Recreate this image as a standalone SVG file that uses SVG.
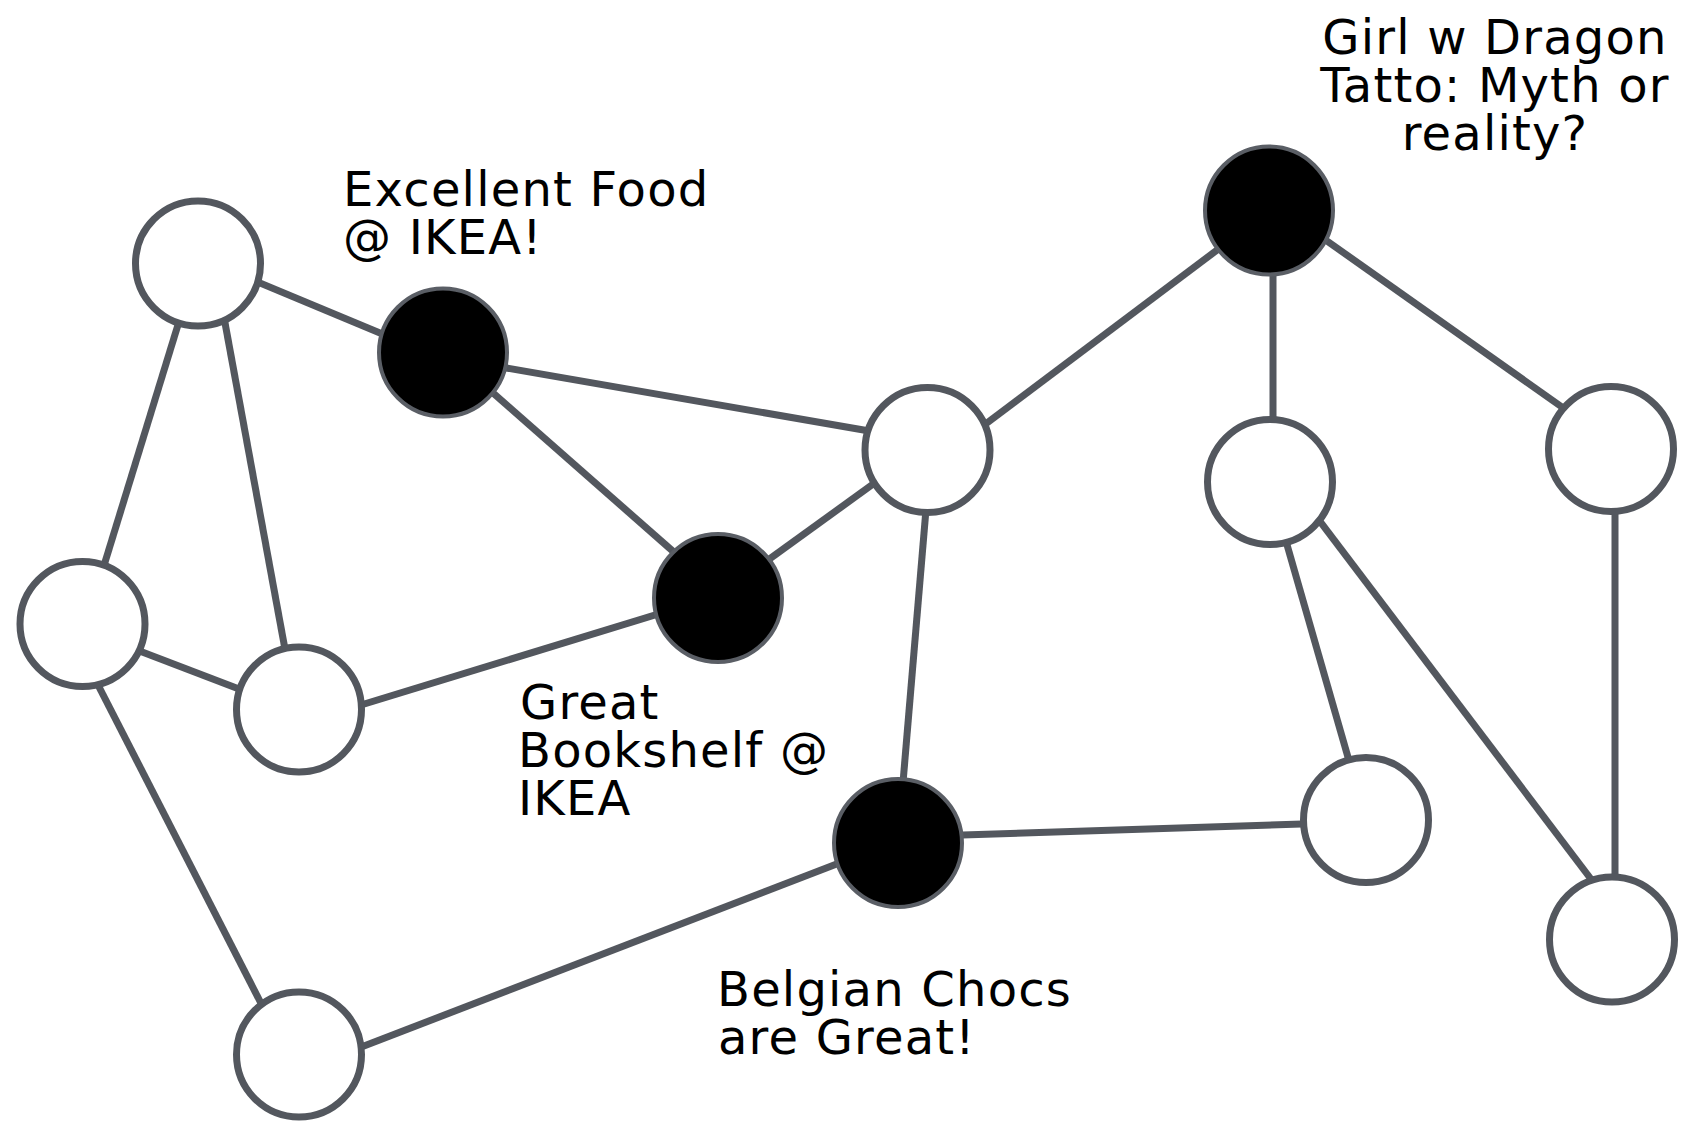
<svg xmlns="http://www.w3.org/2000/svg" width="1686" height="1122" viewBox="0 0 1686 1122">
<style>
.e{stroke:#53575e;stroke-width:7;stroke-linecap:butt;fill:none}
.w{fill:#fff;stroke:#53575e;stroke-width:7}
.b{fill:#000;stroke:#5a5e65;stroke-width:4}
.t{font-family:"DejaVu Sans",sans-serif;font-size:48px;letter-spacing:1.2px;fill:#000}
.m{text-anchor:middle}
</style>
<rect width="1686" height="1122" fill="#fff"/>
<g id="connectors">
<line class="e" x1="200" y1="258" x2="440" y2="358"/>
<line class="e" x1="197" y1="263" x2="86" y2="624"/>
<line class="e" x1="214" y1="263" x2="296" y2="709"/>
<line class="e" x1="82" y1="629" x2="299" y2="712"/>
<line class="e" x1="75" y1="640" x2="287" y2="1054"/>
<line class="e" x1="299" y1="1071" x2="899" y2="840"/>
<line class="e" x1="898" y1="842" x2="931" y2="450"/>
<line class="e" x1="899" y1="837" x2="1366" y2="822"/>
<line class="e" x1="1269" y1="482" x2="1366" y2="820"/>
<line class="e" x1="1300" y1="495" x2="1600" y2="891"/>
<line class="e" x1="1615" y1="449" x2="1615" y2="939"/>
<line class="e" x1="1273" y1="211" x2="1273" y2="482"/>
<line class="e" x1="1269" y1="200" x2="1610" y2="441"/>
<line class="e" x1="935" y1="462" x2="1269" y2="211"/>
<line class="e" x1="443" y1="357" x2="927" y2="441"/>
<line class="e" x1="443" y1="349" x2="717" y2="590"/>
<line class="e" x1="717" y1="597" x2="927" y2="445"/>
<line class="e" x1="299" y1="724" x2="717" y2="596"/>
</g>
<g id="nA"><circle class="w" cx="198" cy="263.5" r="62.5"/></g>
<g id="nB"><circle class="b" cx="443" cy="352.5" r="64"/></g>
<g id="nC"><circle class="w" cx="927.5" cy="450" r="62.5"/></g>
<g id="nD"><circle class="b" cx="1269" cy="210.5" r="64"/></g>
<g id="nE"><circle class="w" cx="1270" cy="482" r="62.5"/></g>
<g id="nF"><circle class="w" cx="1611" cy="449" r="62.5"/></g>
<g id="nG"><circle class="b" cx="718" cy="598" r="64"/></g>
<g id="nH"><circle class="w" cx="82.5" cy="624" r="62.5"/></g>
<g id="nI"><circle class="w" cx="299" cy="709.5" r="62.5"/></g>
<g id="nJ"><circle class="b" cx="898" cy="843" r="64"/></g>
<g id="nK"><circle class="w" cx="1366" cy="820" r="62.5"/></g>
<g id="nL"><circle class="w" cx="1612" cy="939.5" r="62.5"/></g>
<g id="nM"><circle class="w" cx="299" cy="1054.5" r="62.5"/></g>
<g id="labels">
<text class="t"><tspan x="343" y="206">Excellent Food</tspan><tspan x="343" y="254">@ IKEA!</tspan></text>
<text class="t m"><tspan x="1495" y="54">Girl w Dragon</tspan><tspan x="1495" y="102">Tatto: Myth or</tspan><tspan x="1495" y="150">reality?</tspan></text>
<text class="t"><tspan x="520" y="719">Great</tspan><tspan x="518" y="767">Bookshelf @</tspan><tspan x="518" y="815">IKEA</tspan></text>
<text class="t"><tspan x="717" y="1006">Belgian Chocs</tspan><tspan x="718" y="1054">are Great!</tspan></text>
</g>
</svg>
